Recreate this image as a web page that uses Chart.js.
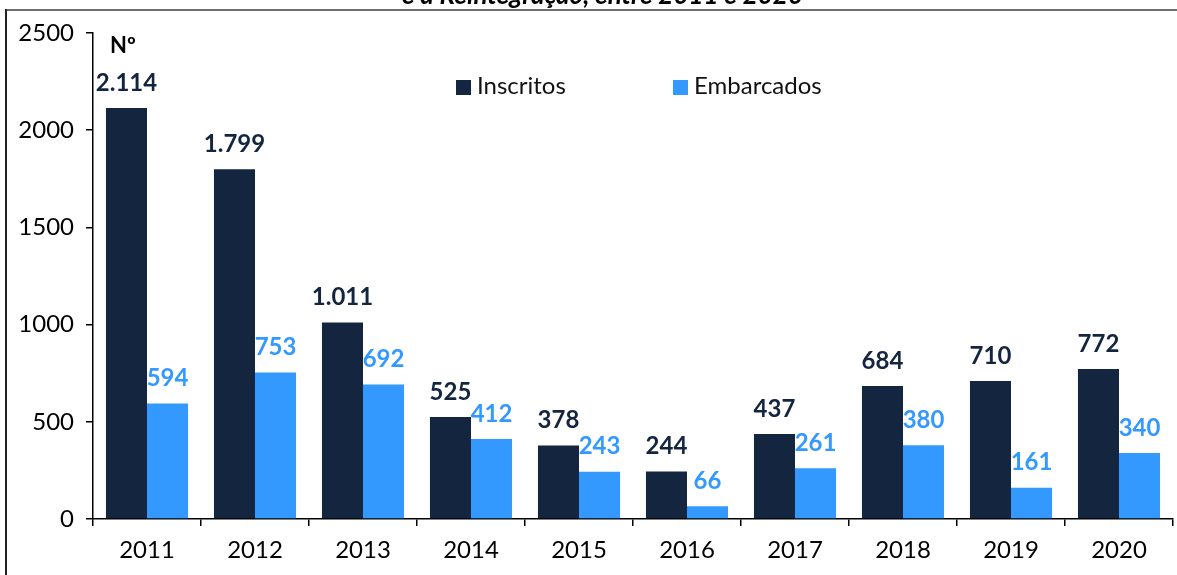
<!DOCTYPE html>
<html><head><meta charset="utf-8">
<script src="https://cdn.jsdelivr.net/npm/chart.js@4.4.1/dist/chart.umd.min.js"></script>
<style>
html,body{margin:0;padding:0;background:#fff;overflow:hidden;}
#wrap{position:relative;width:1177px;height:575px;overflow:hidden;font-family:Lato,"Open Sans",sans-serif;}
#frameTop{position:absolute;left:6px;top:9px;width:1171px;height:0;border-top:2px solid #6e6e6e;}
#frameLeft{position:absolute;left:5px;top:9px;width:0;height:570px;border-left:2px solid #222;}
#title{position:absolute;left:0;width:1177px;top:-19px;text-align:center;font-weight:bold;font-style:italic;font-size:26px;line-height:26px;color:#000;padding-left:28px;box-sizing:border-box;}
canvas{position:absolute;left:0;top:0;}
.leg{position:absolute;top:71px;font-size:24px;color:#111;line-height:28px;}
.leg span{display:inline-block;width:15px;height:15px;margin-right:6px;vertical-align:-1px;}
#no{position:absolute;left:110px;top:31px;font-weight:bold;font-size:22px;color:#000;}
</style></head>
<body><div id="wrap">
<canvas id="c" width="1177" height="575"></canvas>
<div id="title">e a Reintegração, entre 2011 e 2020</div>
<div id="frameTop"></div><div id="frameLeft"></div>
<div id="no">Nº</div>
<div class="leg" style="left:456px"><span style="background:#13253f"></span>Inscritos</div>
<div class="leg" style="left:673px"><span style="background:#3399ff"></span>Embarcados</div>
</div>
<script>
const categories = ["2011","2012","2013","2014","2015","2016","2017","2018","2019","2020"];
const inscritos = [2114,1799,1011,525,378,244,437,684,710,772];
const embarcados = [594,753,692,412,243,66,261,380,161,340];
const yTicks = [0,500,1000,1500,2000,2500];
const seriesNames = ["Inscritos","Embarcados"];
const seriesColors = ["#13253f","#3399ff"];

function fmt(v){ return v.toLocaleString('de-DE'); }

const labelPlugin = {
  id:'barLabels',
  afterDatasetsDraw(chart){
    const ctx = chart.ctx;
    ctx.save();
    ctx.font = 'bold 24px Lato, "Open Sans", sans-serif';
    ctx.textAlign = 'center';
    ctx.textBaseline = 'bottom';
    chart.data.datasets.forEach((ds,i)=>{
      const meta = chart.getDatasetMeta(i);
      ctx.fillStyle = ds.backgroundColor;
      meta.data.forEach((bar,j)=>{
        ctx.fillText(fmt(ds.data[j]), bar.x, bar.y - 13);
      });
    });
    ctx.restore();
  }
};

new Chart(document.getElementById('c'),{
  type:'bar',
  data:{
    labels:categories,
    datasets:[
      {label:seriesNames[0],data:inscritos,backgroundColor:seriesColors[0],categoryPercentage:0.76,barPercentage:1.0},
      {label:seriesNames[1],data:embarcados,backgroundColor:seriesColors[1],categoryPercentage:0.76,barPercentage:1.0}
    ]
  },
  options:{
    responsive:false,animation:false,
    layout:{padding:{left:0,right:4,top:33,bottom:0}},
    plugins:{legend:{display:false},tooltip:{enabled:false}},
    scales:{
      x:{
        offset:true,
        grid:{offset:true,drawOnChartArea:false,drawTicks:true,tickLength:7,color:'#000',lineWidth:1.5},
        border:{color:'#000',width:1.5},
        ticks:{color:'#000',font:{family:'Lato, "Open Sans", sans-serif',size:24},padding:10},
        afterFit(s){ s.height = 56; }
      },
      y:{
        min:0,max:2500,
        afterBuildTicks(s){ s.ticks = yTicks.map(v=>({value:v})); },
        grid:{drawOnChartArea:false,drawTicks:true,tickLength:7,color:'#000',lineWidth:1.5},
        border:{color:'#000',width:1.5},
        ticks:{color:'#000',font:{family:'Lato, "Open Sans", sans-serif',size:24},padding:12,callback:(v)=>String(v)},
        afterFit(s){ s.width = 93; }
      }
    }
  },
  plugins:[labelPlugin]
});
</script>
</body></html>
